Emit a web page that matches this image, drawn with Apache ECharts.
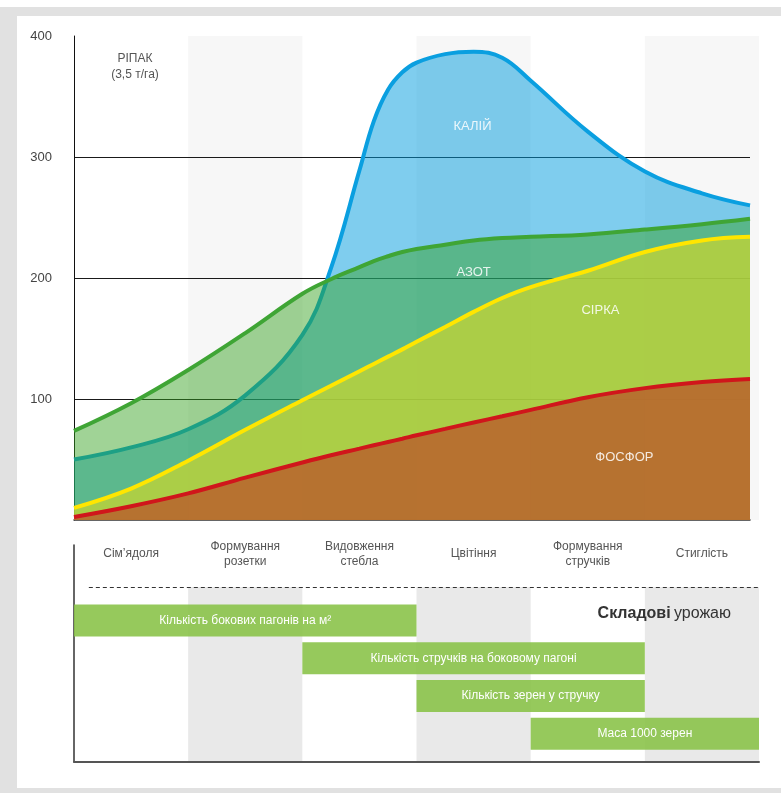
<!DOCTYPE html>
<html>
<head>
<meta charset="utf-8">
<title>Ріпак</title>
<script src="https://cdn.jsdelivr.net/npm/echarts@6/dist/echarts.min.js"></script>
<style>
html,body{margin:0;padding:0;background:#fff;}
.frame{position:absolute;left:0;top:7px;width:781px;height:786px;box-sizing:border-box;
  border-left:17px solid #e1e1e1;border-top:9px solid #e1e1e1;border-bottom:5px solid #e1e1e1;}
#chart{position:absolute;left:0;top:0;width:781px;height:793px;}
</style>
</head>
<body>
<div class="frame"></div>
<div id="chart"></div>
<script>
// фази розвитку
var stages = ['Сім’ядоля', 'Формування\nрозетки', 'Видовження\nстебла', 'Цвітіння', 'Формування\nстручків', 'Стиглість'];

// точки по осі X (в одиницях фаз)
var stageX = [0, 0.5, 1, 1.5, 2, 2.25, 2.5, 2.625, 2.75, 2.875, 3, 3.25, 3.5, 3.75, 4, 4.5, 5, 5.5, 5.92];
// винос елементів живлення, кг/га
var kaliy  = [50, 60, 75, 103, 153, 208, 289, 329.5, 355.6, 370, 378, 385, 387, 382, 363, 321, 288, 270, 260];
var azot   = [73.6, 96.5, 124, 154.5, 187, 199, 209, 214, 218, 221.5, 224, 227.5, 231, 233, 234, 236, 240, 244.5, 249];
var sirka  = [10, 26, 49, 74.5, 99, 111, 123, 129, 135, 141, 147.3, 159.5, 172, 183.5, 192.5, 206, 221.5, 231, 234];
var fosfor = [2.5, 11.4, 22, 35, 47.5, 53.5, 59, 61.8, 64.5, 67.2, 70, 75.3, 80.6, 85.7, 91, 101.5, 109, 114, 116.5];

// підписи в областях
var areaNames = ['КАЛІЙ', 'АЗОТ', 'СІРКА', 'ФОСФОР'];
var areaLabelX = [3.49, 3.5, 4.61, 4.82];
var areaLabelY = [325, 205, 173.5, 52];

// складові урожаю
var barNames = ['Кількість бокових пагонів на м²', 'Кількість стручків на боковому пагоні', 'Кількість зерен у стручку', 'Маса 1000 зерен'];
var barStart = [0, 2, 3, 4];
var barEnd   = [3, 5, 5, 6];
var barRow   = [2, 3, 4, 5];

var font = "'Liberation Sans',Arial,sans-serif";

function pts(arr){
	return stageX.map(function(x, i){ return [x, arr[i]]; });
}
function areaLabel(i){
	return {
		symbol: 'circle', symbolSize: 1, silent: true,
		itemStyle: {color: 'rgba(0,0,0,0)'},
		label: {show: true, position: 'inside', formatter: areaNames[i],
			color: 'rgba(255,255,255,0.85)', fontSize: 13, fontFamily: font},
		data: [{coord: [areaLabelX[i], areaLabelY[i]]}]
	};
}
var hidden = {axisLine: {show: false}, axisTick: {show: false}, axisLabel: {show: false}, splitLine: {show: false}};

var chart = echarts.init(document.getElementById('chart'));
var option = {
	animation: false,
	backgroundColor: 'transparent',
	grid: [
		{left: 74, top: 36, width: 685, height: 484},
		{left: 74, top: 36, width: 676, height: 484},
		{left: 74, top: 587, width: 685, height: 175},
		{left: 74, top: 545, width: 685, height: 217}
	],
	xAxis: [
		Object.assign({gridIndex: 0, type: 'category', data: stages, z: -1,
			splitArea: {show: true, interval: 0, areaStyle: {color: ['rgba(0,0,0,0)', '#f7f7f7']}}}, hidden),
		Object.assign({}, hidden, {gridIndex: 1, type: 'value', min: 0, max: 5.92, z: 1,
			axisLine: {show: true, lineStyle: {color: '#333', width: 1.5}}}),
		Object.assign({gridIndex: 2, type: 'category', data: stages, z: -1,
			splitArea: {show: true, interval: 0, areaStyle: {color: ['rgba(0,0,0,0)', '#e9e9e9']}}}, hidden),
		Object.assign({}, hidden, {gridIndex: 3, type: 'value', min: 0, max: 6, position: 'bottom',
			axisLine: {show: true, onZero: false, lineStyle: {color: '#555', width: 2}}}),
		{gridIndex: 3, type: 'category', position: 'top', data: stages,
			axisLine: {show: false}, axisTick: {show: false}, splitLine: {show: false},
			axisLabel: {inside: true, interval: 0, margin: 9, verticalAlign: 'middle',
				fontSize: 12, lineHeight: 15, color: '#555', fontFamily: font}}
	],
	yAxis: [
		{gridIndex: 0, type: 'value', min: 0, max: 1, show: false},
		{gridIndex: 1, type: 'value', min: 0, max: 400, interval: 100, z: 1,
			axisLine: {show: true, lineStyle: {color: '#111', width: 1}},
			axisTick: {show: false},
			axisLabel: {color: '#444', fontSize: 13, margin: 22, showMinLabel: false, fontFamily: font},
			splitLine: {show: true, showMinLine: false, showMaxLine: false, lineStyle: {color: '#1a1a1a', width: 1}}},
		{gridIndex: 2, type: 'value', min: 0, max: 1, show: false},
		Object.assign({}, hidden, {gridIndex: 3, type: 'value', min: 0, max: 5.75, inverse: true,
			axisLine: {show: true, onZero: false, lineStyle: {color: '#333', width: 1.5}}})
	],
	series: [
		{name: 'КАЛІЙ', type: 'line', xAxisIndex: 1, yAxisIndex: 1, data: pts(kaliy), z: 2,
			smooth: 0.4, symbol: 'none',
			lineStyle: {color: '#0a9fe0', width: 4},
			areaStyle: {color: 'rgba(0,156,222,0.5)', opacity: 1},
			markPoint: areaLabel(0)},
		{name: 'АЗОТ', type: 'line', xAxisIndex: 1, yAxisIndex: 1, data: pts(azot), z: 3,
			smooth: 0.4, symbol: 'none',
			lineStyle: {color: '#3fa535', width: 4},
			areaStyle: {color: 'rgba(51,160,29,0.465)', opacity: 1},
			markPoint: areaLabel(1)},
		{name: 'СІРКА', type: 'line', xAxisIndex: 1, yAxisIndex: 1, data: pts(sirka), z: 4,
			smooth: 0.4, symbol: 'none',
			lineStyle: {color: '#ffe600', width: 4},
			areaStyle: {color: 'rgba(191,211,54,0.8)', opacity: 1},
			markPoint: areaLabel(2)},
		{name: 'ФОСФОР', type: 'line', xAxisIndex: 1, yAxisIndex: 1, data: pts(fosfor), z: 5,
			smooth: 0.4, symbol: 'none',
			lineStyle: {color: '#d0161b', width: 4},
			areaStyle: {color: 'rgba(185,98,45,0.85)', opacity: 1},
			markPoint: areaLabel(3)},
		{type: 'custom', xAxisIndex: 3, yAxisIndex: 3, z: 2,
			data: barStart.map(function(s, i){ return [s, barEnd[i], barRow[i]]; }),
			encode: {x: [0, 1], y: 2},
			renderItem: function(params, api){
				var p0 = api.coord([api.value(0), api.value(2)]);
				var p1 = api.coord([api.value(1), api.value(2)]);
				var h = api.size([0, 0.85])[1];
				return {type: 'group', children: [
					{type: 'rect', shape: {x: p0[0], y: p0[1] - h / 2, width: p1[0] - p0[0], height: h},
						style: {fill: 'rgba(139,195,74,0.9)'}},
					{type: 'text', x: (p0[0] + p1[0]) / 2, y: p0[1],
						style: {text: barNames[params.dataIndex], fill: '#fff', align: 'center', verticalAlign: 'middle',
							fontSize: 12, fontFamily: font}}
				]};
			},
			markLine: {silent: true, symbol: ['none', 'none'], label: {show: false},
				lineStyle: {type: [4, 3], color: '#333', width: 1},
				data: [[{coord: [0.13, 1.11]}, {coord: [6, 1.11]}]]}
		}
	],
	graphic: [
		{type: 'text', x: 135, y: 51, z: 100,
			style: {text: 'РІПАК\n(3,5 т/га)', align: 'center', fill: '#555', fontSize: 12, lineHeight: 16, fontFamily: font}},
		{type: 'text', x: 731, y: 614, z: 100,
			style: {text: '{b|Складові} {r|урожаю}', align: 'right', verticalAlign: 'middle',
				rich: {b: {fontWeight: 'bold', fontSize: 16, fill: '#333', fontFamily: font},
					r: {fontSize: 16, fill: '#333', fontFamily: font}}}}
	]
};
chart.setOption(option);
</script>
</body>
</html>
